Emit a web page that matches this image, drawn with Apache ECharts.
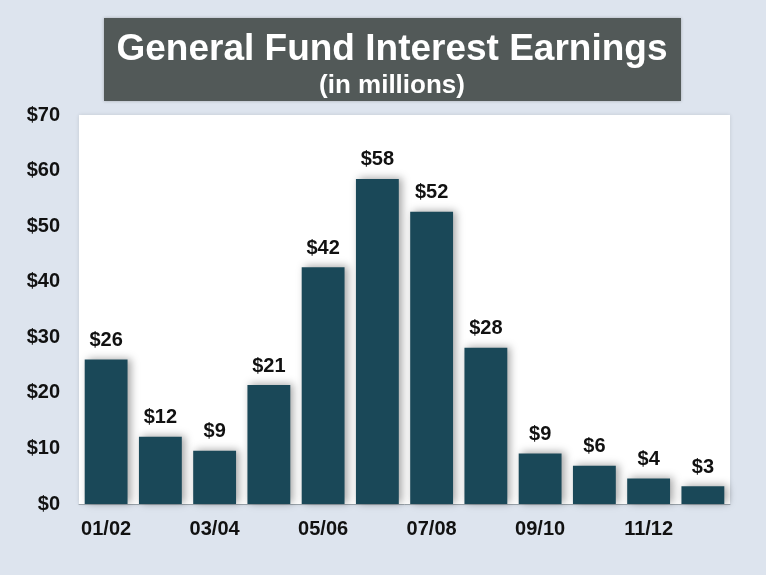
<!DOCTYPE html>
<html>
<head>
<meta charset="utf-8">
<script src="https://cdn.jsdelivr.net/npm/echarts@6/dist/echarts.min.js"></script>
<style>
html,body{margin:0;padding:0;background:#dde4ee;}
#chart{width:766px;height:575px;}
</style>
</head>
<body>
<div id="chart"></div>
<script>
const categories = ['01/02','02/03','03/04','04/05','05/06','06/07','07/08','08/09','09/10','10/11','11/12','12/13'];
const earnings = [26.0, 12.1, 9.6, 21.4, 42.6, 58.5, 52.6, 28.1, 9.1, 6.9, 4.6, 3.2];
const valueLabels = ['$26','$12','$9','$21','$42','$58','$52','$28','$9','$6','$4','$3'];
const yTicks = [0, 10, 20, 30, 40, 50, 60, 70];

const chart = echarts.init(document.getElementById('chart'), null, {renderer: 'canvas'});
const font = 'Liberation Sans, Arial, sans-serif';

chart.setOption({
  backgroundColor: '#dde4ee',
  animation: false,
  graphic: [
    {
      type: 'rect',
      left: 104, top: 18,
      shape: {width: 577, height: 83},
      style: {fill: '#525958', shadowBlur: 3, shadowColor: 'rgba(0,0,0,0.25)'},
      z: 0
    }
  ],
  title: [
    {
      text: 'General Fund Interest Earnings',
      left: 387, top: 26, textAlign: 'center',
      textStyle: {color: '#ffffff', fontFamily: font, fontWeight: 'bold', fontSize: 37}
    },
    {
      text: '(in millions)',
      left: 387, top: 68, textAlign: 'center',
      textStyle: {color: '#ffffff', fontFamily: font, fontWeight: 'bold', fontSize: 26}
    }
  ],
  grid: {
    left: 79, right: 36, top: 115, bottom: 71,
    show: true, backgroundColor: '#ffffff', borderWidth: 0,
    shadowBlur: 4, shadowColor: 'rgba(0,0,0,0.12)'
  },
  xAxis: {
    type: 'category',
    data: categories,
    axisTick: {show: false},
    axisLine: {show: true, lineStyle: {color: '#9aa3ab', width: 1}},
    axisLabel: {
      interval: 1, margin: 15,
      color: '#111', fontFamily: font, fontWeight: 'bold', fontSize: 20
    }
  },
  yAxis: {
    type: 'value',
    min: yTicks[0], max: yTicks[yTicks.length - 1], interval: 10,
    splitLine: {show: false},
    axisLine: {show: false},
    axisTick: {show: false},
    axisLabel: {
      margin: 19,
      color: '#111', fontFamily: font, fontWeight: 'bold', fontSize: 20,
      formatter: v => '$' + v
    }
  },
  series: [{
    type: 'bar',
    data: earnings,
    barCategoryGap: '21%',
    itemStyle: {
      color: '#1a4858',
      shadowBlur: 8, shadowColor: 'rgba(0,0,0,0.35)', shadowOffsetX: 3, shadowOffsetY: -1
    },
    label: {
      show: true, position: 'top', distance: 9,
      color: '#111', fontFamily: font, fontWeight: 'bold', fontSize: 20,
      formatter: p => valueLabels[p.dataIndex]
    }
  }]
});
</script>
</body>
</html>
